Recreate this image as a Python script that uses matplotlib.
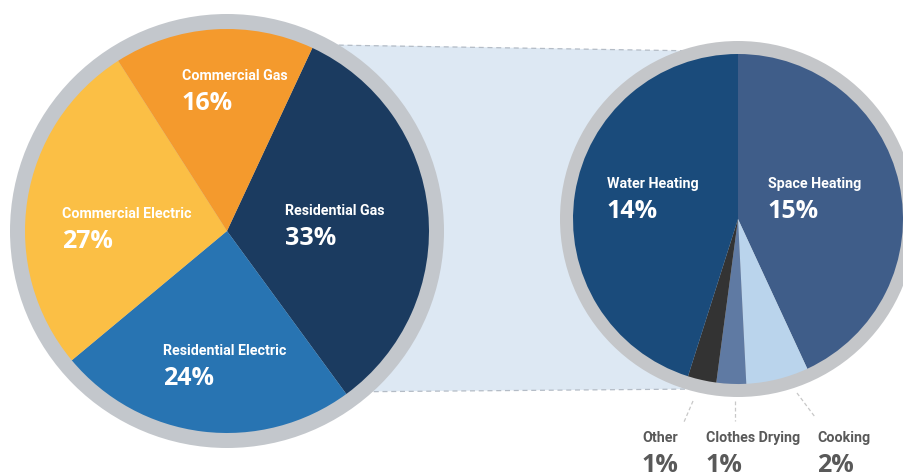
import matplotlib
matplotlib.use("Agg")
import matplotlib.pyplot as plt
from matplotlib.patches import Circle, Polygon

W, H = 904, 477

# overall split of the total
main_labels = ["Residential Gas", "Residential Electric", "Commercial Electric", "Commercial Gas"]
main_pct = [33, 24, 27, 16]
main_colors = ["#1b3b60", "#2874b2", "#fbbf45", "#f49a2d"]

# breakdown of residential gas (shares as drawn, labels as printed)
detail_labels = ["Space Heating", "Cooking", "Clothes Drying", "Other", "Water Heating"]
detail_pct = [15, 2, 1, 1, 14]
detail_share = [43.1, 6.1, 2.9, 2.8, 45.1]
detail_colors = ["#3f5d89", "#bad4ec", "#5f7aa3", "#333333", "#1a4b7b"]

name_font = ["Roboto", "DejaVu Sans"]
pct_font = ["Open Sans", "DejaVu Sans"]


def py(y):
    return H - y


fig = plt.figure(figsize=(W / 100, H / 100), dpi=100)
ax = fig.add_axes([0, 0, 1, 1])

# connector band between the two circles
band = Polygon([(300, py(45)), (700, py(52)), (700, py(390)), (300, py(393))],
               closed=True, facecolor="#dde8f3", edgecolor="none", zorder=0)
ax.add_patch(band)
ax.plot([330, 700], [py(46), py(52)], color="#b4bcc6", lw=0.9, ls=(0, (4, 3)), zorder=0.5)
ax.plot([330, 700], [py(393), py(390)], color="#b4bcc6", lw=0.9, ls=(0, (4, 3)), zorder=0.5)

# left pie
lc = (227, py(232))
ax.add_patch(Circle(lc, 217, facecolor="#c3c7cc", edgecolor="none", zorder=1))
ax.pie(main_pct, colors=main_colors, startangle=65, counterclock=False,
       center=lc, radius=202, wedgeprops={"zorder": 2, "linewidth": 0})

# right pie
rc = (738, py(220))
ax.add_patch(Circle(rc, 178, facecolor="#c4c6c9", edgecolor="none", zorder=1))
ax.pie(detail_share, colors=detail_colors, startangle=90, counterclock=False,
       center=rc, radius=165, wedgeprops={"zorder": 2, "linewidth": 0})

# leader lines for the thin slices
for (x0, y0), (x1, y1) in [((693, 402), (684, 423)), ((735, 402), (735, 422)),
                           ((797, 394), (815, 418))]:
    ax.plot([x0, x1], [py(y0), py(y1)], color="#c8c8c8", lw=0.9, ls=(0, (3, 2)), zorder=1)

# labels
label_pos = {
    "Commercial Gas": (182, 80),
    "Residential Gas": (285, 215),
    "Commercial Electric": (62, 218),
    "Residential Electric": (163, 355),
    "Water Heating": (607, 188),
    "Space Heating": (768, 188),
    "Other": (642, 442),
    "Clothes Drying": (706, 442),
    "Cooking": (817, 442),
}
pct_of = dict(zip(main_labels, main_pct))
pct_of.update(dict(zip(detail_labels, detail_pct)))

for name, (x, y) in label_pos.items():
    col = "#595959" if y > 400 else "white"
    ax.text(x, py(y), name, family=name_font, fontweight="bold", fontsize=10.3,
            color=col, ha="left", va="baseline", zorder=5)
    ax.text(x, py(y + 30), "%d%%" % pct_of[name], family=pct_font, fontweight="bold",
            fontsize=18, color=col, ha="left", va="baseline", zorder=5)

ax.set_xlim(0, W)
ax.set_ylim(0, H)
ax.set_aspect("equal")
ax.axis("off")
fig.savefig("out.png", dpi=100, facecolor="white")
